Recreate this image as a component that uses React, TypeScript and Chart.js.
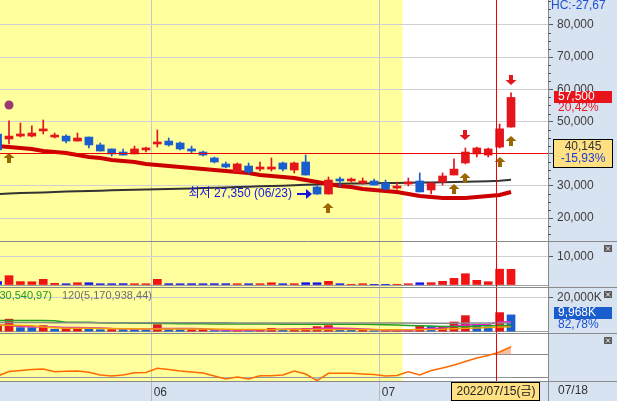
import { useEffect, useRef } from "react";
import { Chart, registerables } from "chart.js";

Chart.register(...registerables);

// ---- data ----
const year = 2022;
const dates = [
  "05/12", "05/13", "05/16", "05/17", "05/18", "05/19", "05/20", "05/23", "05/24", "05/25", "05/26", "05/27", "05/30", "05/31",
  "06/02", "06/03", "06/07", "06/08", "06/09", "06/10", "06/13", "06/14", "06/15", "06/16", "06/17", "06/20", "06/21", "06/22", "06/23", "06/24", "06/27", "06/28", "06/29", "06/30",
  "07/01", "07/04", "07/05", "07/06", "07/07", "07/08", "07/11", "07/12", "07/13", "07/14", "07/15", "07/18",
];
const opens = [46150, 44600, 45500, 45500, 47100, 45200, 45500, 43950, 45200, 42750, 41500, 40550, 39950, 41200, 43050, 43950, 43350, 41500, 40550, 38700, 36850, 34350, 36200, 35250, 35250, 37150, 34950, 37450, 29700, 27500, 31850, 31550, 30900, 31550, 30900, 29350, 30600, 31550, 28750, 31250, 33400, 37150, 39950, 39600, 42100, 48300];
const highs = [46500, 50200, 49550, 48650, 50500, 46450, 45850, 46450, 45200, 43350, 41500, 41500, 42400, 42100, 47400, 44900, 43650, 42400, 40850, 39000, 37450, 37150, 37150, 37450, 38700, 37450, 37450, 39600, 30000, 32800, 32800, 32500, 32500, 32150, 31850, 31250, 32500, 34050, 31000, 34050, 38400, 41800, 42100, 41800, 49250, 58900];
const lows = [40900, 43050, 45200, 45200, 46150, 44900, 43350, 43950, 41800, 40850, 39300, 39600, 39950, 40550, 42100, 42400, 41200, 40250, 39300, 37150, 35600, 34350, 33700, 34650, 34650, 34650, 34050, 33400, 27350, 27500, 29700, 31250, 30600, 30300, 28750, 29050, 30000, 28150, 27500, 30300, 33400, 36850, 39000, 39000, 41800, 48300];
const closes = [41200, 45500, 46150, 46450, 47400, 45500, 43950, 44900, 42750, 40850, 39950, 39600, 41500, 41500, 43650, 42750, 41500, 40850, 39600, 37450, 35900, 36850, 34350, 35900, 35900, 35250, 37150, 33400, 27500, 31850, 31550, 31850, 31550, 30300, 29050, 29700, 31250, 28150, 30900, 33100, 35250, 40550, 41800, 41500, 47750, 57500];
const ma20 = [42400, 42100, 41800, 41500, 40850, 40550, 40250, 39600, 39000, 38700, 38050, 37750, 37450, 36850, 36500, 36200, 35900, 35600, 35250, 34950, 34650, 34350, 34050, 33400, 33100, 32800, 32500, 31850, 31250, 30600, 30000, 29700, 29050, 28750, 28450, 28150, 27500, 26900, 26600, 26300, 26300, 26300, 26600, 26900, 27200, 28150];
const ma120 = [27500, 27700, 27800, 27900, 28000, 28150, 28250, 28350, 28450, 28550, 28650, 28750, 28800, 28900, 29000, 29050, 29150, 29250, 29350, 29450, 29550, 29700, 29800, 29900, 30000, 30100, 30200, 30350, 30500, 30600, 30700, 30750, 30800, 30850, 30900, 30950, 31000, 31050, 31100, 31150, 31200, 31300, 31400, 31500, 31650, 31900];
const volumes = [1200, 3300, 1200, 1150, 2000, 600, 450, 800, 800, 450, 450, 480, 460, 450, 2000, 470, 440, 460, 450, 470, 460, 450, 440, 460, 800, 450, 470, 820, 800, 1300, 460, 250, 450, 240, 250, 260, 460, 800, 820, 1300, 2350, 4000, 1650, 1170, 5600, 5550];
const amounts = [3500, 7400, 2400, 2350, 3600, 1400, 2000, 2050, 2000, 1200, 1250, 1200, 1150, 1100, 4150, 1200, 1150, 1200, 1250, 650, 600, 650, 600, 1200, 2000, 1000, 1050, 2000, 3000, 3600, 1200, 1150, 1200, 600, 620, 640, 660, 3300, 3100, 3200, 5750, 9500, 4350, 2800, 11300, 9968];
const amountMa5 = [4000, 3600, 3000, 2900, 2800, 2700, 2400, 2400, 2300, 2200, 1800, 1700, 1600, 1500, 1900, 1900, 1800, 1800, 1700, 1200, 1000, 950, 900, 1000, 1300, 1400, 1500, 1600, 1800, 2100, 2000, 1900, 1600, 1300, 1000, 900, 800, 1400, 1900, 2200, 3300, 3900, 4100, 4200, 5800, 5900];
const amountMa20 = [3800, 3800, 3700, 3500, 2700, 2300, 2000, 2000, 2000, 1900, 1800, 1700, 1650, 1600, 1600, 1600, 1600, 1600, 1550, 1500, 1400, 1350, 1300, 1250, 1250, 1250, 1250, 1250, 1300, 1350, 1350, 1300, 1250, 1200, 1200, 1150, 1150, 1250, 1350, 1450, 1700, 2000, 2200, 2400, 2700, 2850];
const amountMa60 = [6600, 6600, 6600, 6550, 6550, 6500, 5600, 5600, 5550, 5300, 5200, 5100, 5000, 4950, 4900, 4800, 4750, 4700, 4650, 4600, 4550, 4550, 4500, 4500, 4500, 4450, 4450, 4450, 4450, 4400, 4400, 4400, 4350, 4300, 4100, 3900, 3700, 3500, 3300, 3100, 3000, 2950, 3550, 3550, 3600, 3630];
const amountMa120 = [5400, 5400, 5380, 5370, 5360, 5350, 5340, 5330, 5320, 5310, 5300, 5290, 5280, 5270, 5260, 5250, 5250, 5240, 5230, 5220, 5210, 5200, 5200, 5190, 5180, 5170, 5160, 5150, 5150, 5140, 5130, 5120, 5110, 5100, 5090, 5080, 5070, 5060, 5050, 5050, 5060, 5080, 5100, 5120, 5150, 5170];
const oscillator = [32, 40, 41.6, 43.4, 44.3, 39.6, 40.4, 40.8, 38.5, 33.8, 32.1, 33.8, 37.8, 38.2, 45.5, 43.4, 40.8, 39, 37.3, 32.1, 26.9, 30.3, 26.9, 32.6, 32.6, 33.8, 40.8, 35.6, 24, 36.8, 36.8, 36.8, 35.6, 34.7, 32.1, 33, 39.6, 33.8, 41.6, 46, 51.2, 57.3, 63.4, 67.7, 73.8, 83];

const priceTicks = [20000, 30000, 40000, 50000, 60000, 70000, 80000];
const volumeTicks = [0, 10000];
const amountTicks = [0, 20000];
const oscTicks = [30, 50, 70];
const upSignals = ["05/13", "06/24", "07/11", "07/12", "07/15", "07/18"];
const downSignals = ["07/12", "07/18"];
const dotSignals = [{ date: "05/13", price: 55150 }];
const highlightUntil = "07/05";
const cursorIndex = 43.7;
const cursorPrice = 40145;
const hcText = "HC:-27,67";
const amountRatio = "82,78%";
const amountLegend = ["60(3,630,540,97)", "120(5,170,938,44)"];

// ---- styling ----
const UP = "#e4161c";
const DOWN = "#1a5dcc";
const PANEL = "#d7e3f1";
const FONT = "12px 'Liberation Sans', 'Noto Sans CJK KR', sans-serif";
const weekdays = ["일", "월", "화", "수", "목", "금", "토"];

const idx = dates.map((_, i) => i);
const pts = (arr: number[]) => arr.map((y, i) => ({ x: i, y }));
const candleColors = idx.map((i) => (closes[i] >= opens[i] ? UP : DOWN));
const volumeColors = idx.map((i) => (closes[i] >= opens[i] ? "#f01414" : "#1212e6"));
const amountColors = idx.map((i) => (i === 0 || amounts[i] >= amounts[i - 1] ? UP : DOWN));
const comma = (v: number) => Math.round(v).toLocaleString("en-US");
const pct = (v: number) => v.toFixed(2).replace(".", ",") + "%";

const rightAxis = (weight: number, min: number, max: number, ticks: number[], label: (v: number) => string, gridColor: any, tickColor: any) => ({
  type: "linear",
  position: "right",
  stack: "panels",
  stackWeight: weight,
  min,
  max,
  afterBuildTicks: (s: any) => {
    s.ticks = ticks.map((value) => ({ value }));
  },
  afterFit: (s: any) => {
    s.width = 69;
    s.paddingTop = 0;
    s.paddingBottom = 0;
  },
  grid: { color: gridColor, tickLength: 5, tickColor },
  border: { color: "#8a8a8a" },
  ticks: { color: "#3c3c3c", padding: 4, font: { size: 12 }, callback: (v: any) => label(Number(v)) },
});

function upArrow(ctx: CanvasRenderingContext2D, x: number, top: number) {
  ctx.fillStyle = "#996600";
  ctx.beginPath();
  ctx.moveTo(x, top);
  ctx.lineTo(x + 5.5, top + 5);
  ctx.lineTo(x + 2, top + 5);
  ctx.lineTo(x + 2, top + 10);
  ctx.lineTo(x - 2, top + 10);
  ctx.lineTo(x - 2, top + 5);
  ctx.lineTo(x - 5.5, top + 5);
  ctx.closePath();
  ctx.fill();
}

function downArrow(ctx: CanvasRenderingContext2D, x: number, bottom: number) {
  ctx.fillStyle = "#e4161c";
  ctx.beginPath();
  ctx.moveTo(x, bottom);
  ctx.lineTo(x + 5.5, bottom - 5);
  ctx.lineTo(x + 2, bottom - 5);
  ctx.lineTo(x + 2, bottom - 10);
  ctx.lineTo(x - 2, bottom - 10);
  ctx.lineTo(x - 2, bottom - 5);
  ctx.lineTo(x - 5.5, bottom - 5);
  ctx.closePath();
  ctx.fill();
}

const overlay = {
  id: "overlay",
  beforeDraw(chart: any) {
    const { ctx, chartArea: a, width, height } = chart;
    const x = chart.scales.x;
    ctx.save();
    ctx.fillStyle = "#ffffff";
    ctx.fillRect(0, 0, width, height);
    const hx = x.getPixelForValue(dates.indexOf(highlightUntil) - 0.5);
    ctx.fillStyle = "#ffff9e";
    ctx.fillRect(a.left, a.top, hx - a.left, a.bottom - a.top);
    ctx.fillStyle = PANEL;
    ctx.fillRect(a.right, 0, width - a.right, height);
    ctx.fillRect(0, a.bottom, width, height - a.bottom);
    ctx.restore();
  },
  afterDatasetsDraw(chart: any) {
    const { ctx, chartArea: a } = chart;
    const { x, yMain } = chart.scales;
    ctx.save();
    ctx.beginPath();
    ctx.rect(a.left, a.top, a.right - a.left, a.bottom - a.top);
    ctx.clip();

    // signal arrows
    upSignals.forEach((d) => {
      const i = dates.indexOf(d);
      upArrow(ctx, Math.round(x.getPixelForValue(i)), Math.round(yMain.getPixelForValue(lows[i])) + 9);
    });
    downSignals.forEach((d) => {
      const i = dates.indexOf(d);
      downArrow(ctx, Math.round(x.getPixelForValue(i)), Math.round(yMain.getPixelForValue(highs[i])) - 8);
    });

    // lowest price label
    let li = 0;
    lows.forEach((v, i) => {
      if (v < lows[li]) li = i;
    });
    const tip = Math.round(x.getPixelForValue(li)) - 5;
    const ly = Math.round(yMain.getPixelForValue(lows[li])) - 1;
    ctx.fillStyle = "#1414e0";
    ctx.strokeStyle = "#1414e0";
    ctx.lineWidth = 2;
    ctx.beginPath();
    ctx.moveTo(tip - 15, ly);
    ctx.lineTo(tip - 5, ly);
    ctx.stroke();
    ctx.beginPath();
    ctx.moveTo(tip, ly);
    ctx.lineTo(tip - 6, ly - 5);
    ctx.lineTo(tip - 6, ly + 5);
    ctx.closePath();
    ctx.fill();
    ctx.font = FONT;
    ctx.textAlign = "right";
    ctx.textBaseline = "middle";
    ctx.fillText(`최저 ${comma(lows[li])} (${dates[li]})`, tip - 20, ly);
    ctx.restore();
  },
  afterDraw(chart: any) {
    const { ctx, chartArea: a, width, height } = chart;
    const { x, yMain, yVol, yAmt, yOsc } = chart.scales;
    const n = dates.length;
    ctx.save();
    ctx.font = FONT;
    ctx.lineWidth = 1;

    // crosshair
    const cxl = Math.round(x.getPixelForValue(cursorIndex)) + 0.5;
    const cyl = Math.round(yMain.getPixelForValue(cursorPrice)) + 0.5;
    ctx.strokeStyle = "#f00000";
    ctx.beginPath();
    ctx.moveTo(a.left, cyl);
    ctx.lineTo(a.right, cyl);
    ctx.moveTo(cxl, a.top);
    ctx.lineTo(cxl, a.bottom);
    ctx.stroke();

    // panel separators
    ctx.strokeStyle = "#8a8a8a";
    [yMain, yVol, yAmt, yOsc].forEach((s: any) => {
      const y = Math.round(s.bottom) + 0.5;
      ctx.beginPath();
      ctx.moveTo(0, y);
      ctx.lineTo(width, y);
      ctx.stroke();
    });
    ctx.beginPath();
    ctx.moveTo(a.right + 0.5, a.bottom);
    ctx.lineTo(a.right + 0.5, height);
    ctx.stroke();

    // minor ticks of price axis
    ctx.strokeStyle = "#555";
    for (let v = 15000; v < yMain.max; v += 2500) {
      if (v % 10000 === 0) continue;
      const y = Math.round(yMain.getPixelForValue(v)) + 0.5;
      ctx.beginPath();
      ctx.moveTo(a.right, y);
      ctx.lineTo(a.right + 3, y);
      ctx.stroke();
    }

    // top-right indicator text
    ctx.textAlign = "left";
    ctx.textBaseline = "alphabetic";
    ctx.fillStyle = "#1e50d2";
    ctx.fillText(hcText, a.right + 3, 9);

    // last price box
    const last = closes[n - 1];
    const py = Math.round(yMain.getPixelForValue(last));
    ctx.fillStyle = "#e8141c";
    ctx.fillRect(a.right + 6, py - 6, 58, 12);
    ctx.textBaseline = "middle";
    ctx.fillStyle = "#ffffff";
    ctx.fillText(comma(last), a.right + 10, py);
    ctx.fillStyle = "#e8141c";
    ctx.fillText(pct((last / closes[n - 2] - 1) * 100), a.right + 10, py + 11);

    // cursor price box
    const cy = Math.round(yMain.getPixelForValue(cursorPrice));
    ctx.fillStyle = "#ffe083";
    ctx.fillRect(a.right + 5.5, cy - 13.5, 59, 28);
    ctx.strokeStyle = "#000";
    ctx.strokeRect(a.right + 5.5, cy - 13.5, 59, 28);
    ctx.textAlign = "center";
    ctx.fillStyle = "#333";
    ctx.fillText(comma(cursorPrice), a.right + 35, cy - 6);
    ctx.fillStyle = "#1e3cd2";
    ctx.fillText(pct((cursorPrice / closes[n - 2] - 1) * 100), a.right + 35, cy + 6);

    // last amount box
    const ay = Math.round(yAmt.getPixelForValue(amounts[n - 1]));
    ctx.fillStyle = "#1a5dcc";
    ctx.fillRect(a.right + 6, ay - 8, 58, 12);
    ctx.textAlign = "left";
    ctx.fillStyle = "#fff";
    ctx.fillText(comma(amounts[n - 1]) + "K", a.right + 10, ay - 2);
    ctx.fillStyle = "#1e50d2";
    ctx.fillText(amountRatio, a.right + 10, ay + 10);

    // amount legend
    ctx.font = "11px 'Liberation Sans', sans-serif";
    ctx.textAlign = "right";
    ctx.fillStyle = "#229922";
    ctx.fillText(amountLegend[0], 52, yAmt.top + 9);
    ctx.textAlign = "left";
    ctx.fillStyle = "#6e6e6e";
    ctx.fillText(amountLegend[1], 62, yAmt.top + 9);
    ctx.font = FONT;

    // close buttons
    [yVol, yAmt, yOsc].forEach((s: any) => {
      const bx = width - 13;
      const by = Math.round(s.top) + 4;
      ctx.fillStyle = "#5a5a5a";
      ctx.fillRect(bx, by, 8, 7);
      ctx.strokeStyle = "#fff";
      ctx.beginPath();
      ctx.moveTo(bx + 2, by + 1.5);
      ctx.lineTo(bx + 6, by + 5.5);
      ctx.moveTo(bx + 6, by + 1.5);
      ctx.lineTo(bx + 2, by + 5.5);
      ctx.stroke();
    });

    // date labels on the bottom band
    const mid = (a.bottom + height) / 2;
    ctx.fillStyle = "#333";
    ctx.textAlign = "left";
    ctx.fillText(dates[n - 1], a.right + 10, mid);
    const ci = Math.round(cursorIndex);
    const [mm, dd] = dates[ci].split("/").map(Number);
    const label = `${year}/${dates[ci]}(${weekdays[new Date(year, mm - 1, dd).getDay()]})`;
    const cx = Math.round(x.getPixelForValue(cursorIndex));
    ctx.fillStyle = "#ffe083";
    ctx.fillRect(cx - 44.5, a.bottom + 1.5, 88, 18);
    ctx.strokeStyle = "#000";
    ctx.strokeRect(cx - 44.5, a.bottom + 1.5, 88, 18);
    ctx.fillStyle = "#222";
    ctx.textAlign = "center";
    ctx.fillText(label, cx, mid + 1);
    ctx.restore();
  },
};

export default function App() {
  const ref = useRef<HTMLCanvasElement>(null);

  useEffect(() => {
    document.body.style.margin = "0";
    Chart.defaults.font.family = "'Liberation Sans', 'Noto Sans CJK KR', sans-serif";
    const monthStarts = idx.filter((i) => i > 0 && dates[i].slice(0, 2) !== dates[i - 1].slice(0, 2));
    const line = (data: number[], color: string, width: number, axis: string, extra: any = {}) => ({
      type: "line",
      data: pts(data),
      borderColor: color,
      borderWidth: width,
      pointRadius: 0,
      yAxisID: axis,
      order: 4,
      ...extra,
    });

    const chart = new Chart(ref.current as HTMLCanvasElement, {
      type: "bar",
      data: {
        datasets: [
          { type: "bar", data: idx.map((i) => ({ x: i, y: [lows[i], highs[i]] })), backgroundColor: candleColors, barThickness: 1, yAxisID: "yMain", order: 2 },
          { type: "bar", data: idx.map((i) => ({ x: i, y: [opens[i], closes[i]] })), backgroundColor: candleColors, barThickness: 8, minBarLength: 2, yAxisID: "yMain", order: 1 },
          line(ma20, "#cc0000", 4, "yMain"),
          line(ma120, "#333333", 2, "yMain"),
          {
            type: "line",
            data: dotSignals.map((d) => ({ x: dates.indexOf(d.date), y: d.price })),
            showLine: false,
            pointRadius: 4.5,
            pointBackgroundColor: "#9b3a6e",
            pointBorderWidth: 0,
            yAxisID: "yMain",
            order: 0,
          },
          { type: "bar", data: pts(volumes), backgroundColor: volumeColors, barThickness: 8, yAxisID: "yVol", order: 2 },
          { type: "bar", data: pts(amounts), backgroundColor: amountColors, barThickness: 8, yAxisID: "yAmt", order: 2 },
          line(amountMa120, "#8a8a8a", 1.5, "yAmt", { order: 1 }),
          line(amountMa60, "#22a022", 1.5, "yAmt", { order: 1 }),
          line(amountMa20, "#f0a000", 1.5, "yAmt", { order: 1 }),
          line(amountMa5, "#e020d0", 1.5, "yAmt", { order: 1 }),
          line(oscillator, "#ff6a00", 1.5, "yOsc", { order: 1, fill: { target: { value: 70 }, above: "#f7c0a2", below: "transparent" } }),
          line(oscillator, "transparent", 0, "yOsc", { order: 2, fill: { target: { value: 30 }, above: "transparent", below: "#a9d2f2" } }),
        ],
      } as any,
      options: {
        animation: false,
        responsive: true,
        maintainAspectRatio: false,
        events: [],
        layout: { padding: 0, autoPadding: false },
        datasets: { bar: { grouped: false } },
        plugins: { legend: { display: false }, tooltip: { enabled: false } },
        scales: {
          x: {
            type: "linear",
            position: "bottom",
            offset: false,
            min: 0.21,
            max: 48.24,
            afterBuildTicks: (s: any) => {
              s.ticks = monthStarts.map((i) => ({ value: i - 0.5 }));
            },
            afterFit: (s: any) => {
              s.height = 20;
              s.paddingLeft = 0;
              s.paddingRight = 0;
            },
            grid: { offset: false, color: "#c8c8c8", tickLength: 20, tickColor: "#b8b8b8" },
            border: { display: false },
            ticks: {
              align: "start",
              labelOffset: 2,
              padding: -16,
              color: "#333",
              font: { size: 12 },
              autoSkip: false,
              maxRotation: 0,
              callback: (v: any) => dates[Math.round(Number(v) + 0.5)].slice(0, 2),
            },
          },
          yMain: rightAxis(241, 12915, 87760, priceTicks, comma, "#d0d0d0", "#555"),
          yVol: rightAxis(46, -700, 15550, volumeTicks, (v) => (v ? comma(v) : ""), (c: any) => (c.tick.value ? "#d0d0d0" : "#a0a0a0"), (c: any) => (c.tick.value ? "#555" : "transparent")),
          yAmt: rightAxis(46, -800, 26500, amountTicks, (v) => (v ? comma(v) + "K" : ""), (c: any) => (c.tick.value ? "#d0d0d0" : "#a0a0a0"), (c: any) => (c.tick.value ? "#555" : "transparent")),
          yOsc: rightAxis(48, 23.4, 106.9, oscTicks, (v) => (v === 50 ? v.toFixed(2).replace(".", ",") : ""), (c: any) => (c.tick.value === 50 ? "#d0d0d0" : "#8a8a8a"), (c: any) => (c.tick.value === 50 ? "#555" : "transparent")),
        },
      } as any,
      plugins: [overlay],
    });
    return () => chart.destroy();
  }, []);

  return (
    <div style={{ width: 617, height: 401, position: "relative" }}>
      <canvas ref={ref} />
    </div>
  );
}
